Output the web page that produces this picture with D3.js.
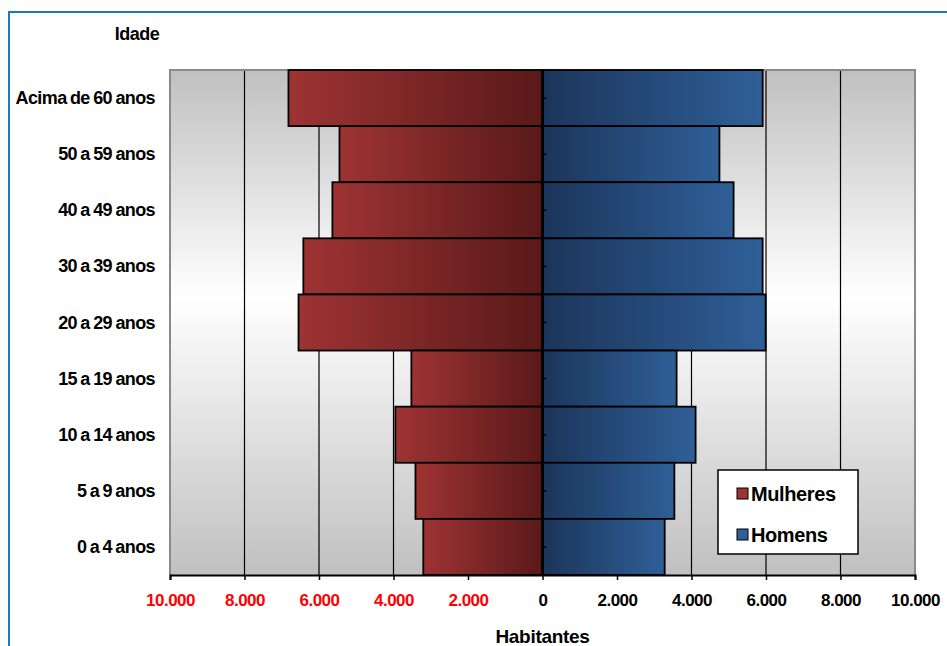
<!DOCTYPE html>
<html><head><meta charset="utf-8">
<script src="https://cdn.jsdelivr.net/npm/d3@7/dist/d3.min.js"></script>
<style>body{margin:0;background:#fff;} svg{display:block;font-family:"Liberation Sans",Arial,sans-serif;}</style>
</head><body>
<script>
const categories = ["Acima de 60 anos","50 a 59 anos","40 a 49 anos","30 a 39 anos","20 a 29 anos","15 a 19 anos","10 a 14 anos","5 a 9 anos","0 a 4 anos"];
const mulheres = [6820, 5450, 5640, 6420, 6550, 3520, 3950, 3410, 3200];
const homens   = [5910, 4750, 5130, 5910, 5990, 3600, 4110, 3540, 3280];
const tickValues = [-10000,-8000,-6000,-4000,-2000,0,2000,4000,6000,8000,10000];
const tickLabels = ["10.000","8.000","6.000","4.000","2.000","0","2.000","4.000","6.000","8.000","10.000"];

const W=947,H=646;
const svg=d3.select("body").append("svg").attr("width",W).attr("height",H);
const defs=svg.append("defs");
const bg=defs.append("linearGradient").attr("id","bg").attr("x1",0).attr("x2",0).attr("y1",0).attr("y2",1);
bg.append("stop").attr("offset","0%").attr("stop-color","#c0c0c0");
bg.append("stop").attr("offset","45%").attr("stop-color","#ffffff");
bg.append("stop").attr("offset","100%").attr("stop-color","#c0c0c0");
const gr=defs.append("linearGradient").attr("id","gRed").attr("x1",0).attr("x2",1).attr("y1",0).attr("y2",0);
gr.append("stop").attr("offset","0%").attr("stop-color","#9e3333");
gr.append("stop").attr("offset","100%").attr("stop-color","#5a1919");
const gb=defs.append("linearGradient").attr("id","gBlue").attr("x1",0).attr("x2",1).attr("y1",0).attr("y2",0);
gb.append("stop").attr("offset","0%").attr("stop-color","#1b355a");
gb.append("stop").attr("offset","100%").attr("stop-color","#2f5f98");

// frame
svg.append("rect").attr("x",9).attr("y",12).attr("width",W+20).attr("height",H+20)
  .attr("fill","none").attr("stroke","#1a7ac8").attr("stroke-width",2);

const L=170,R=915,T=70,B=575;
const x=d3.scaleLinear().domain([-10000,10000]).range([L,R]);
const y=d3.scaleBand().domain(categories).range([T,B]).padding(0);

svg.append("rect").attr("x",L).attr("y",T).attr("width",R-L).attr("height",B-T).attr("fill","url(#bg)");
// grid
svg.append("g").selectAll("line").data(tickValues.filter(v=>v!==0 && Math.abs(v)!==10000)).join("line")
  .attr("x1",d=>x(d)).attr("x2",d=>x(d)).attr("y1",T).attr("y2",B)
  .attr("stroke","#000").attr("stroke-width",1.2);
// plot border
svg.append("path").attr("d",`M${L},${B}V${T}H${R}V${B}`).attr("fill","none").attr("stroke","#8a8a8a").attr("stroke-width",2);

// bars
svg.append("g").selectAll("rect").data(categories).join("rect")
  .attr("x",(d,i)=>x(-mulheres[i])).attr("width",(d,i)=>x(0)-x(-mulheres[i]))
  .attr("y",d=>y(d)).attr("height",y.bandwidth())
  .attr("fill","url(#gRed)").attr("stroke","#000").attr("stroke-width",1.8);
svg.append("g").selectAll("rect").data(categories).join("rect")
  .attr("x",x(0)).attr("width",(d,i)=>x(homens[i])-x(0))
  .attr("y",d=>y(d)).attr("height",y.bandwidth())
  .attr("fill","url(#gBlue)").attr("stroke","#000").attr("stroke-width",1.8);

// center axis
svg.append("line").attr("x1",x(0)).attr("x2",x(0)).attr("y1",T).attr("y2",B).attr("stroke","#000").attr("stroke-width",3);
svg.append("g").selectAll("line").data(categories).join("line")
  .attr("x1",x(0)).attr("x2",x(0)+4).attr("y1",d=>y(d)+y.bandwidth()/2).attr("y2",d=>y(d)+y.bandwidth()/2)
  .attr("stroke","#000").attr("stroke-width",1.5);

// x axis
const xa=svg.append("g").attr("transform",`translate(0,${B})`)
  .call(d3.axisBottom(x).tickValues(tickValues).tickSize(5).tickFormat((d,i)=>tickLabels[i]));
xa.select(".domain").attr("stroke","#000").attr("stroke-width",2);
xa.selectAll(".tick line").attr("stroke","#000").attr("stroke-width",1.5);
xa.selectAll(".tick text").attr("font-family","Liberation Sans, Arial, sans-serif").attr("font-size",17).attr("font-weight","bold")
  .attr("dy",0).attr("y",31).attr("letter-spacing","-0.5px")
  .attr("fill",d=>d<0?"#ff0000":"#000");

// y labels
svg.append("g").selectAll("text").data(categories).join("text")
  .attr("x",155).attr("y",d=>y(d)+y.bandwidth()/2+6).attr("text-anchor","end")
  .attr("font-size",18).attr("font-weight","bold").attr("letter-spacing","-0.6px").attr("word-spacing","-1px").text(d=>d);

svg.append("text").attr("x",137).attr("y",40).attr("text-anchor","middle").attr("font-size",18).attr("font-weight","bold").attr("letter-spacing","-0.5px").text("Idade");
svg.append("text").attr("x",x(0)).attr("y",643).attr("text-anchor","middle").attr("font-size",19).attr("font-weight","bold").attr("letter-spacing","-0.3px").text("Habitantes");

// legend
const lg=svg.append("g");
lg.append("rect").attr("x",718).attr("y",470).attr("width",140).attr("height",84).attr("fill","#fff").attr("stroke","#000").attr("stroke-width",1.5);
const leg=[["Mulheres","#9e3333"],["Homens","#2f5f98"]];
leg.forEach((l,i)=>{
  const yy=494+i*41;
  lg.append("rect").attr("x",737).attr("y",yy-6).attr("width",11).attr("height",11).attr("fill",l[1]).attr("stroke","#000").attr("stroke-width",1);
  lg.append("text").attr("x",751).attr("y",yy+7).attr("font-size",20).attr("font-weight","bold").attr("letter-spacing","-0.4px").text(l[0]);
});
</script>
</body></html>
